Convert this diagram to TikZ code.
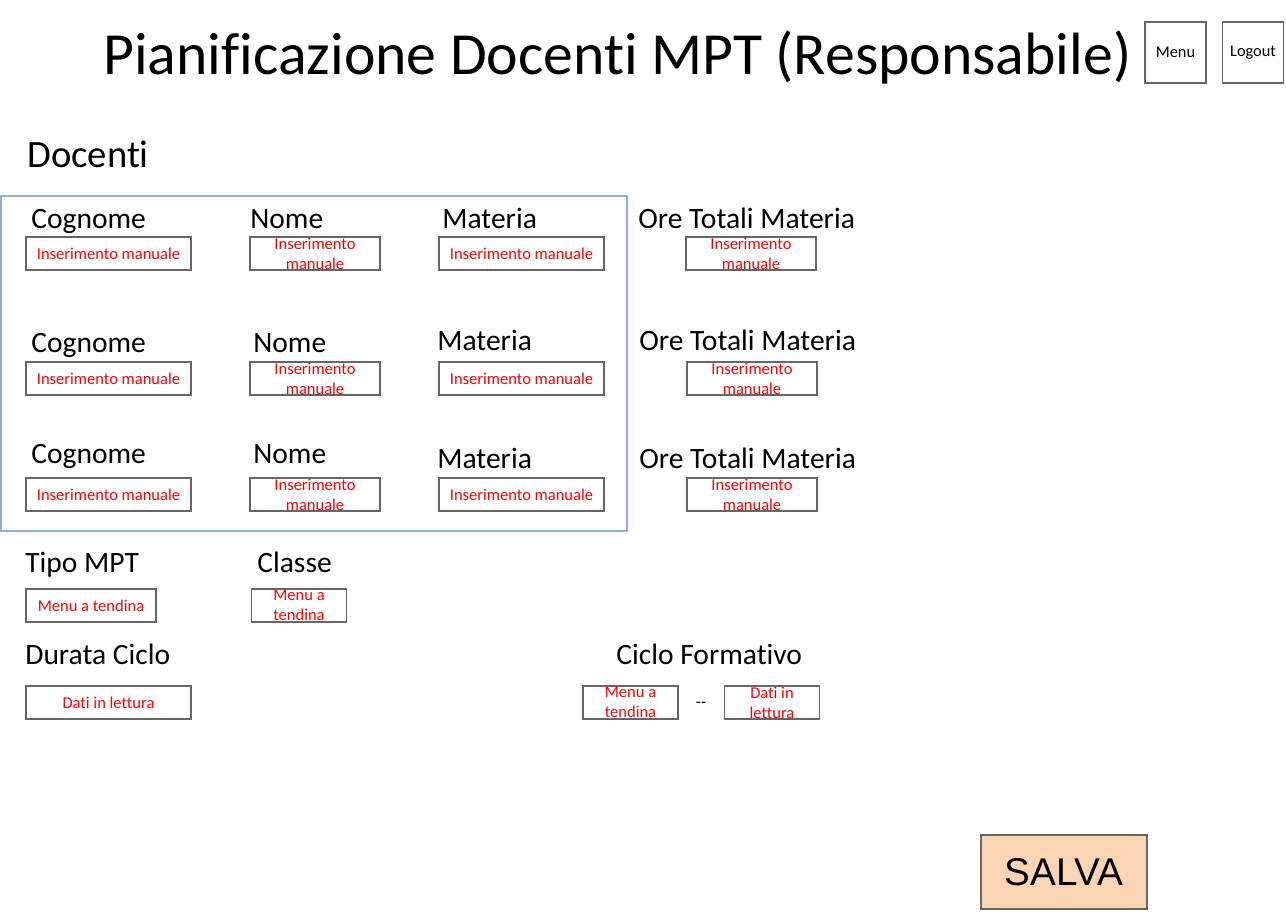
\documentclass[tikz,border=0pt]{standalone}
\usepackage{fontspec}
\setmainfont{Carlito}[Ligatures={TeX,NoCommon}]
\newfontfamily\arialfont{Liberation Sans}
\usetikzlibrary{positioning}

\definecolor{frameblue}{RGB}{143,170,220}
\definecolor{salvafill}{RGB}{251,212,180}

\begin{document}
\begin{tikzpicture}[x=0.02cm,y=-0.02cm,
  lbl/.style={anchor=base west,inner sep=0pt,font=\fontsize{16.8}{20}\selectfont},
  field/.style={draw=black!60,line width=0.6pt,minimum height=0.66cm,inner sep=0pt,text=red,align=center,font=\fontsize{9.4}{11.3}\selectfont},
  widefield/.style={field,minimum width=3.3cm},
  midfield/.style={field,minimum width=2.6cm},
  smallfield/.style={field,minimum width=1.9cm},
  btn/.style={draw=black!60,line width=0.6pt,minimum size=1.22cm,inner sep=0pt,font=\fontsize{9.3}{11}\selectfont}]
\useasboundingbox[fill=white] (0,0) rectangle (1286,913);
% header
\node[anchor=base west,inner sep=0pt,font=\fontsize{34}{40}\selectfont] (title) at (103,74) {Pianificazione Docenti MPT (Responsabile)};
\node[btn] (menu) at (1175.5,52.5) {Menu};
\node[btn] (logout) at (1253,52.5) {Logout};
% docenti
\node[anchor=base west,inner sep=0pt,font=\fontsize{22}{26}\selectfont] (docenti) at (27,167.5) {Docenti};
\draw[line width=0.7pt,frameblue] (1,196) rectangle (627,531);
\foreach \i/\by/\ly/\nx/\mx/\my/\ox in {1/253.5/228.5/250/442/228.5/751,2/378.5/352.5/253/437/350.5/752,3/494.5/463.5/253/437/468.5/752}{
  \node[lbl] (cognome\i) at (31,\ly) {Cognome};
  \node[widefield] (cognomebox\i) at (108.5,\by) {Inserimento manuale};
  \node[lbl] (nome\i) at (\nx,\ly) {Nome};
  \node[midfield] (nomebox\i) at (315,\by) {Inserimento\\manuale};
  \node[lbl] (materia\i) at (\mx,\my) {Materia};
  \node[widefield] (materiabox\i) at (521.5,\by) {Inserimento manuale};
  \node[lbl] (ore\i) at (\ox-113,\my) {Ore Totali Materia};
  \node[midfield] (orebox\i) at (\ox,\by) {Inserimento\\manuale};
}
% tipo e classe
\node[lbl] (tipo) at (25,572.5) {Tipo MPT};
\node[midfield] (tipobox) at (91,605.5) {Menu a tendina};
\node[lbl] (classe) at (257,572.5) {Classe};
\node[smallfield] (classebox) at (299,605.5) {Menu a\\tendina};
% ciclo
\node[lbl] (durata) at (25,664.5) {Durata Ciclo};
\node[widefield] (duratabox) at (108.5,702.5) {Dati in lettura};
\node[lbl] (ciclo) at (616,664.5) {Ciclo Formativo};
\node[smallfield] (ciclomenu) at (630.5,702.5) {Menu a\\tendina};
\node[font=\fontsize{9.4}{11.3}\selectfont,inner sep=0pt] (trattino) at (701,705) {{-}{-}};
\node[smallfield] (ciclodati) at (772,702.5) {Dati in\\lettura};
% salva
\node[draw=black!60,line width=0.6pt,fill=salvafill,minimum width=3.32cm,minimum height=1.48cm,font=\arialfont\fontsize{22}{26}\selectfont] (salva) at (1064,872) {SALVA};
\end{tikzpicture}
\end{document}
